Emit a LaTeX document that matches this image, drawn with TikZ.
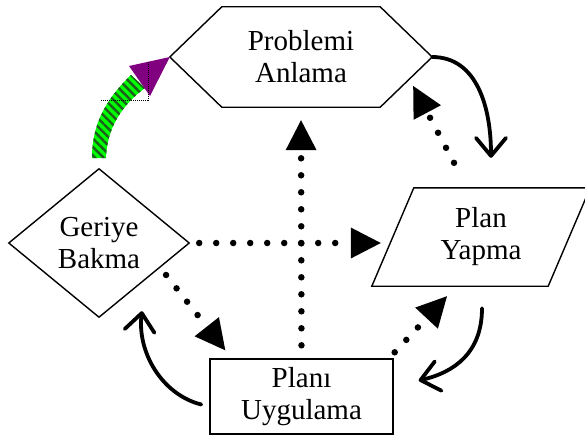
\documentclass[tikz,border=0pt]{standalone}
\usepackage{fontspec}
\setmainfont{Liberation Serif}
\usetikzlibrary{calc}
\usetikzlibrary{positioning}
\usetikzlibrary{arrows.meta}
\usetikzlibrary{patterns.meta}
\definecolor{stripegreen}{RGB}{30,90,30}
\definecolor{headpurple}{RGB}{128,0,128}

\begin{document}
\begin{tikzpicture}[x=1pt, y=-1pt,
        stage/.style={align=center, inner sep=0pt, font=\fontsize{29}{32}\selectfont},
        shapeline/.style={draw=black, line width=1.4pt},
        dotarrow/.style={line width=6.5pt, line cap=round, dash pattern=on 0pt off 17pt,
            -{Triangle[length=30pt, width=31pt, line width=0pt]}},
        curvearrow/.style={line width=3.8pt, line cap=round,
            -{Straight Barb[length=18pt, width=30pt, line width=3.8pt, round]}}]
            \useasboundingbox (0,0) rectangle (585,436);
            \node[stage, minimum width=262pt, minimum height=100pt] (pa) at (301,57) {Problemi\\Anlama};
            \node[stage, minimum width=180pt, minimum height=148pt] (gb) at (99,243) {Geriye\\Bakma};
            \node[stage, minimum width=176pt, minimum height=98pt] (py) at (481,237) {Plan\\Yapma};
            \node[stage, shapeline, minimum width=183pt, minimum height=75pt] (pu) at (301.5,396.5) {Planı\\Uygulama};
            \draw[shapeline] (pa.west) -- ($(pa.north west)+(52,0)$) -- ($(pa.north east)+(-52,0)$)
                -- (pa.east) -- ($(pa.south east)+(-52,0)$) -- ($(pa.south west)+(52,0)$) -- cycle;
            \draw[shapeline] (gb.north) -- (gb.east) -- (gb.south) -- (gb.west) -- cycle;
            \draw[shapeline] ($(py.north west)+(21,0)$) -- ($(py.north east)+(21,0)$)
                -- ($(py.south east)+(-21,0)$) -- ($(py.south west)+(-21,0)$) -- cycle;
            \draw[dotarrow, shorten <=13pt, shorten >=13pt] (pu.north) -- (pa.south);
            \draw[dotarrow, shorten <=10pt, shorten >=12pt] (gb.east) -- (gb.east -| py.west);
            \draw[dotarrow, shorten <=10pt] ($(gb.east)!0.325!(gb.south)$) -- ($(pu.north west)+(16,-8)$);
            \draw[dotarrow] ($(pu.north east)+(1,-6)$) -- ($(py.south)+(-34,10)$);
            \draw[dotarrow] ($(py.north)+(-27,-25)$) -- ($(pa.east)+(-19,29)$);
            \draw[curvearrow] (pa.east) .. controls +(45,0) and +(0,-50) .. ($(py.north)+(10,-30)$);
            \draw[curvearrow] ($(py.south)+(1,22)$) .. controls +(0,45) and +(35,-8) .. ($(pu.east)+(25,-16)$);
            \draw[curvearrow] ($(pu.west)+(-8,8)$) .. controls +(-40,-10) and +(-5,40) .. ($(gb.south)+(43,-6)$);
            \fill[green] (92,158) .. controls (92,125) and (105,100) .. (131,75)
                -- (145,88) .. controls (122,105) and (107,128) .. (106,158) -- cycle;
            \fill[pattern={Lines[angle=-45, distance=6pt, line width=2.4pt]}, pattern color=stripegreen]
                (92,158) .. controls (92,125) and (105,100) .. (131,75)
                -- (145,88) .. controls (122,105) and (107,128) .. (106,158) -- cycle;
            \fill[headpurple] (129,66) -- (pa.west) -- (150,96) -- cycle;
            \draw[densely dotted, line width=1pt] (101,100) -- (148,100) -- (148,62);
        \end{tikzpicture}
\end{document}
